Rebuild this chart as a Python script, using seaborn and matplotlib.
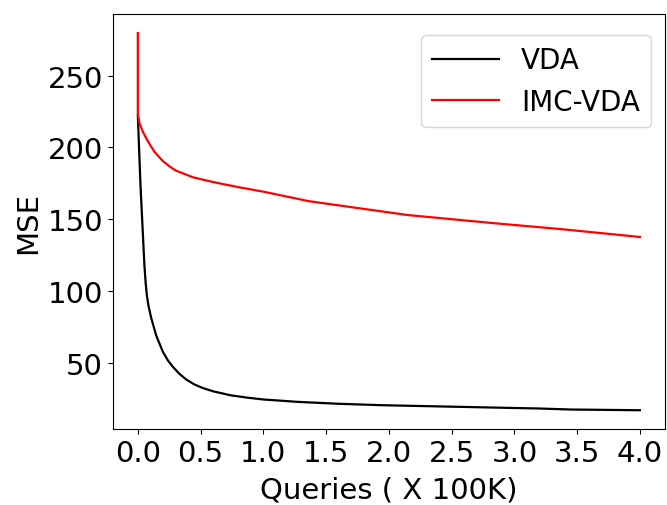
import pandas as pd
import matplotlib
matplotlib.use("Agg")
import matplotlib.pyplot as plt
import seaborn as sns

# values
queries_vda = [0.0, 0.021, 0.04, 0.053, 0.062, 0.072, 0.085, 0.107, 0.147, 0.2, 0.24, 0.28,
               0.33, 0.386, 0.45, 0.52, 0.6, 0.74, 0.87, 1.0, 1.28, 1.6, 1.95, 2.6, 3.2, 3.45, 4.0]
mse_vda = [222.5, 174.0, 140.0, 117.0, 106.0, 97.0, 89.5, 81.0, 68.8, 57.4, 51.5, 47.0,
           42.3, 38.2, 34.8, 32.2, 30.0, 27.2, 25.6, 24.3, 22.6, 21.3, 20.3, 19.1, 18.0, 17.3, 16.8]

queries_imc = [0.0, 0.0, 0.013, 0.04, 0.07, 0.1, 0.133, 0.173, 0.2, 0.25, 0.3, 0.44,
               0.57, 0.65, 0.81, 1.0, 1.36, 1.75, 2.15, 2.5, 2.84, 3.37, 4.0]
mse_imc = [279.8, 223.6, 217.0, 211.0, 206.0, 201.5, 197.0, 193.0, 190.5, 187.0, 184.0, 179.2,
           176.5, 175.0, 172.2, 169.2, 162.6, 157.8, 152.9, 150.0, 147.2, 143.1, 137.6]

methods = ["VDA", "IMC-VDA"]
colors = {"VDA": "black", "IMC-VDA": "red"}

df = pd.concat([
    pd.DataFrame({"Queries": queries_vda, "MSE": mse_vda, "method": "VDA"}),
    pd.DataFrame({"Queries": queries_imc, "MSE": mse_imc, "method": "IMC-VDA"}),
], ignore_index=True)

fig = plt.figure(figsize=(6.67, 5.06), dpi=100)
ax = fig.add_axes([0.169, 0.150, 0.828, 0.820])

sns.lineplot(data=df, x="Queries", y="MSE", hue="method", hue_order=methods,
             palette=colors, estimator=None, sort=False, linewidth=1.6, ax=ax)

ax.set_xticks([0.0, 0.5, 1.0, 1.5, 2.0, 2.5, 3.0, 3.5, 4.0])
ax.set_yticks([50, 100, 150, 200, 250])
ax.tick_params(labelsize=21)
ax.set_xlabel("Queries ( X 100K)", fontsize=21, labelpad=6)
ax.set_ylabel("MSE", fontsize=21)
ax.legend(loc="upper right", fontsize=20, handlelength=2.4,
          bbox_to_anchor=(1.0, 0.983))

fig.savefig("out.png", dpi=100)
